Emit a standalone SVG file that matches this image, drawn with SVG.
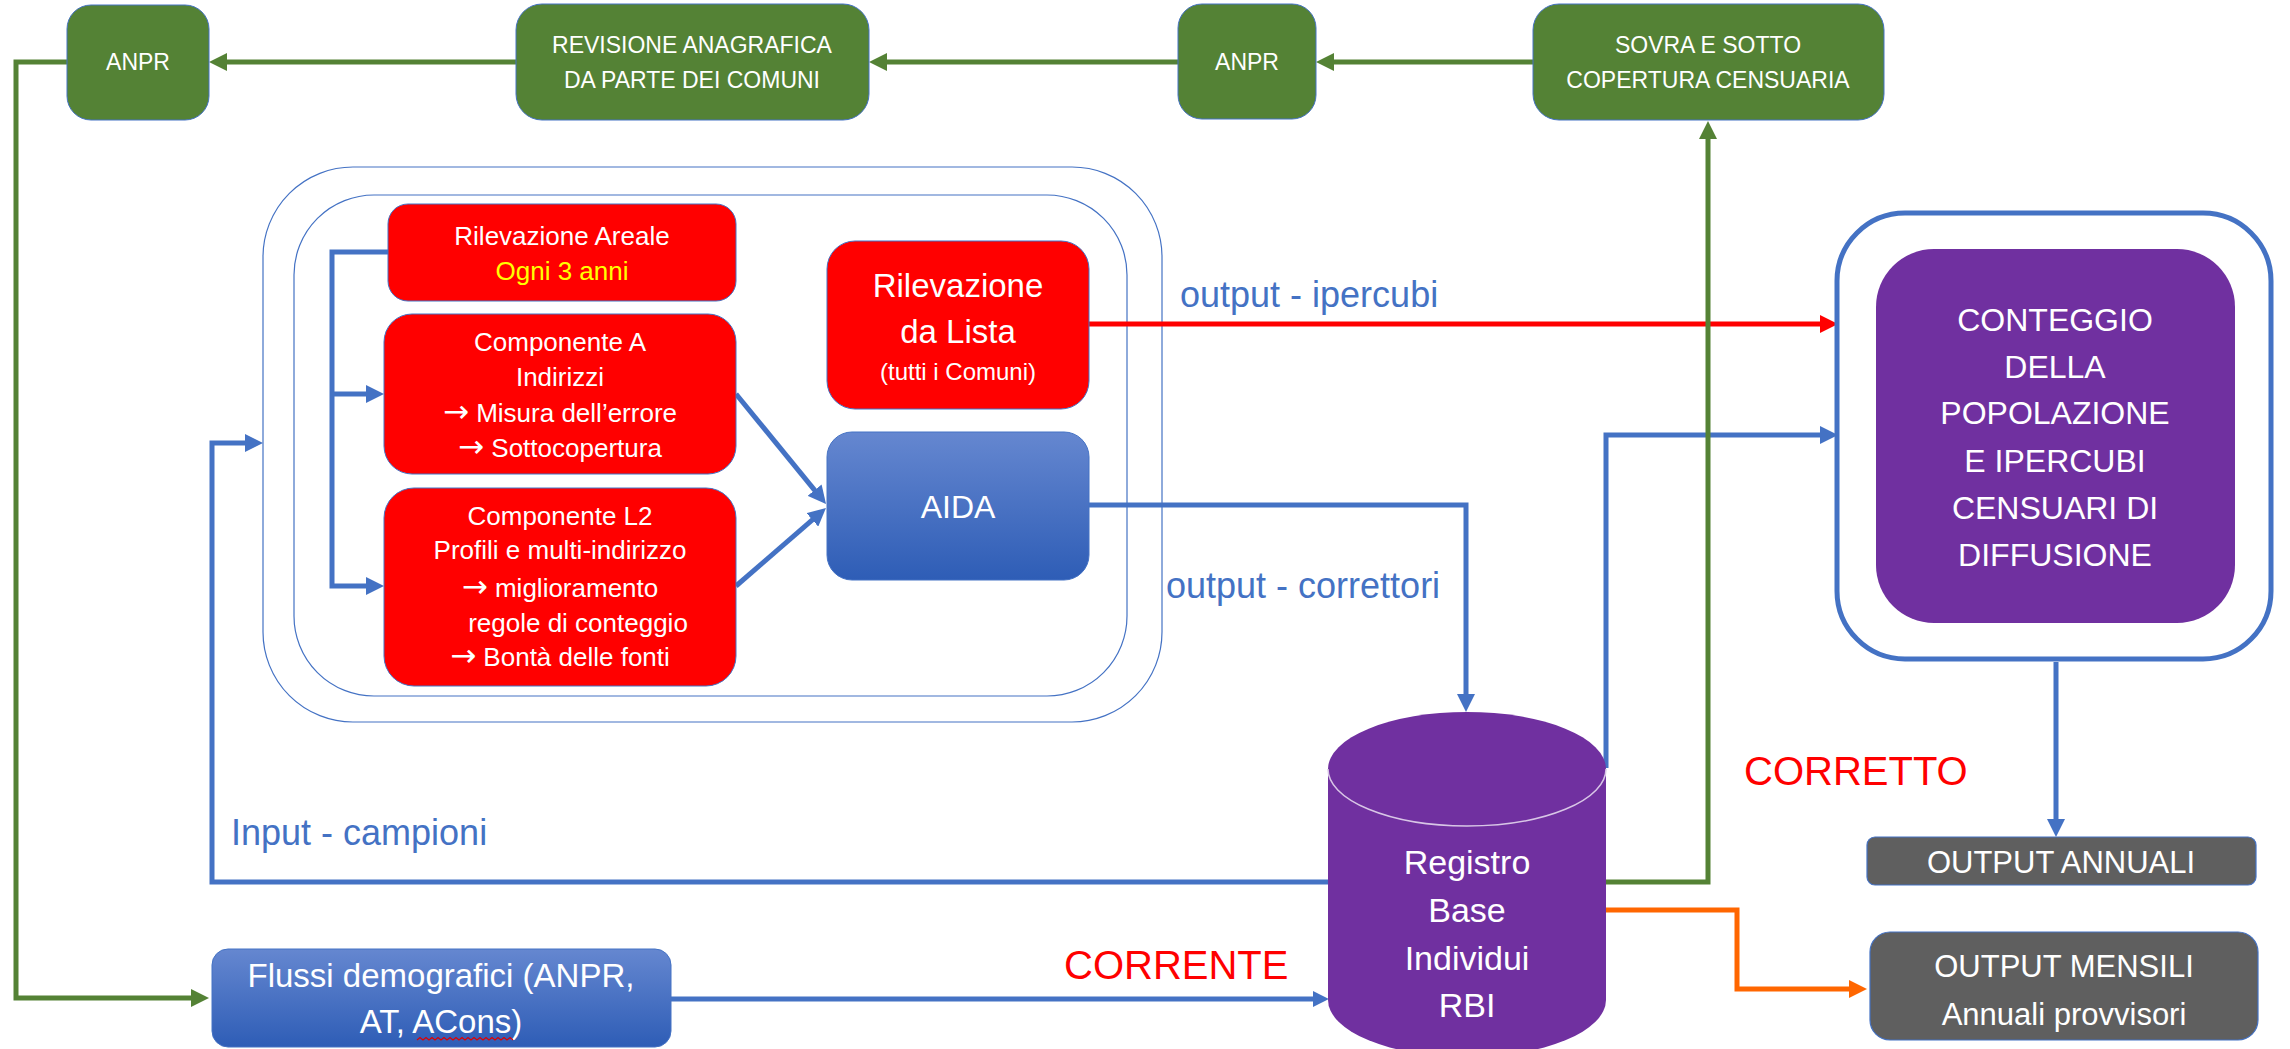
<svg xmlns="http://www.w3.org/2000/svg" width="2290" height="1049" viewBox="0 0 2290 1049">
<style>
text{font-family:"Liberation Sans",Arial,sans-serif;}
.w{fill:#ffffff;text-anchor:middle;}
.ar{font-family:"DejaVu Sans",sans-serif;font-size:31px;}
.g{fill:#548235;stroke:#4472c4;stroke-width:1;}
.r{fill:#ff0000;stroke:#4472c4;stroke-width:1;}
.gy{fill:#5f5f5f;stroke:#4472c4;stroke-width:1.2;}
.bl{fill:url(#blueGrad);stroke:#4472c4;stroke-width:1;}
.cont{fill:#ffffff;stroke:#4472c4;stroke-width:1.2;}
.lb{fill:#4472c4;}
.big{fill:#ff0000;}
.c{fill:none;stroke-linejoin:miter;}
.cb{stroke:#4472c4;stroke-width:5;}
.cg{stroke:#548235;stroke-width:5;}
.cr{stroke:#ff0000;stroke-width:5;}
.co{stroke:#ff6600;stroke-width:5;}
</style>
<defs>
<linearGradient id="blueGrad" x1="0" y1="0" x2="0" y2="1">
<stop offset="0" stop-color="#6587d0"/>
<stop offset="1" stop-color="#2e5db6"/>
</linearGradient>
<marker id="ab" viewBox="0 0 18 18" markerWidth="18" markerHeight="18" markerUnits="userSpaceOnUse" refX="8" refY="9" orient="auto"><path d="M0,0 L18,9 L0,18 z" fill="#4472c4"/></marker>
<marker id="abs" viewBox="0 0 18 18" markerWidth="16" markerHeight="16" markerUnits="userSpaceOnUse" refX="8" refY="9" orient="auto"><path d="M0,0 L18,9 L0,18 z" fill="#4472c4"/></marker>
<marker id="ag" viewBox="0 0 18 18" markerWidth="18" markerHeight="18" markerUnits="userSpaceOnUse" refX="8" refY="9" orient="auto"><path d="M0,0 L18,9 L0,18 z" fill="#548235"/></marker>
<marker id="ar" viewBox="0 0 18 18" markerWidth="18" markerHeight="18" markerUnits="userSpaceOnUse" refX="8" refY="9" orient="auto"><path d="M0,0 L18,9 L0,18 z" fill="#ff0000"/></marker>
<marker id="ao" viewBox="0 0 18 18" markerWidth="18" markerHeight="18" markerUnits="userSpaceOnUse" refX="8" refY="9" orient="auto"><path d="M0,0 L18,9 L0,18 z" fill="#ff6600"/></marker>
</defs>
<rect width="2290" height="1049" fill="#ffffff"/>

<g id="containers">
<rect class="cont" x="263" y="167" width="899" height="555" rx="90"/>
<rect class="cont" x="294" y="195" width="833" height="501" rx="80"/>
</g>

<g id="connectors">
<path class="c cg" d="M1533,62 H1326" marker-end="url(#ag)"/>
<path class="c cg" d="M1178,62 H879" marker-end="url(#ag)"/>
<path class="c cg" d="M516,62 H219" marker-end="url(#ag)"/>
<path class="c cg" d="M67,62 H16 V998 H199" marker-end="url(#ag)"/>
<path class="c cb" d="M388,252 H332 V586 H374" marker-end="url(#ab)"/>
<path class="c cb" d="M332,394 H374" marker-end="url(#ab)"/>
<path class="c cb" d="M736,394 L819.7,496.3" stroke-width="4" marker-end="url(#ab)"/>
<path class="c cb" d="M736,586 L818.4,514.6" stroke-width="4" marker-end="url(#ab)"/>
<path class="c cr" d="M1089,324 H1828" marker-end="url(#ar)"/>
<path class="c cb" d="M1089,505 H1466 V702" stroke-width="4" marker-end="url(#ab)"/>
<path class="c cb" d="M1606,768 V435 H1828" stroke-width="4" marker-end="url(#ab)"/>
<path class="c cg" d="M1606,882 H1708 V131" stroke-width="4" marker-end="url(#ag)"/>
<path class="c cb" d="M1328,882 H212 V443 H253" marker-end="url(#ab)"/>
<path class="c co" d="M1606,910 H1737 V989 H1857" marker-end="url(#ao)"/>
<path class="c cb" d="M2056,662 V827" stroke-width="4" marker-end="url(#ab)"/>
<path class="c cb" d="M671,999 H1320" stroke-width="2.5" marker-end="url(#abs)"/>
</g>

<g id="anpr1">
<rect class="g" x="67" y="5" width="142" height="115" rx="24"/>
<text class="w" x="138" y="70" font-size="23">ANPR</text>
</g>
<g id="revisione">
<rect class="g" x="516" y="4" width="353" height="116" rx="26"/>
<text class="w" x="692" y="53" font-size="23">REVISIONE ANAGRAFICA</text>
<text class="w" x="692" y="88" font-size="23">DA PARTE DEI COMUNI</text>
</g>
<g id="anpr2">
<rect class="g" x="1178" y="4" width="138" height="115" rx="24"/>
<text class="w" x="1247" y="70" font-size="23">ANPR</text>
</g>
<g id="sovra">
<rect class="g" x="1533" y="4" width="351" height="116" rx="26"/>
<text class="w" x="1708" y="53" font-size="23">SOVRA E SOTTO</text>
<text class="w" x="1708" y="88" font-size="23">COPERTURA CENSUARIA</text>
</g>

<g id="rilevazione-areale">
<rect class="r" x="388" y="204" width="348" height="97" rx="20"/>
<text class="w" x="562" y="245" font-size="26">Rilevazione Areale</text>
<text x="562" y="280" font-size="26" fill="#ffff00" text-anchor="middle">Ogni 3 anni</text>
</g>
<g id="componente-a">
<rect class="r" x="384" y="314" width="352" height="160" rx="28"/>
<text class="w" x="560" y="351" font-size="26">Componente A</text>
<text class="w" x="560" y="386" font-size="26">Indirizzi</text>
<text class="w" x="560" y="422" font-size="26"><tspan class="ar">→</tspan> Misura dell’errore</text>
<text class="w" x="560" y="457" font-size="26"><tspan class="ar">→</tspan> Sottocopertura</text>
</g>
<g id="componente-l2">
<rect class="r" x="384" y="488" width="352" height="198" rx="30"/>
<text class="w" x="560" y="525" font-size="26">Componente L2</text>
<text class="w" x="560" y="559" font-size="26">Profili e multi-indirizzo</text>
<text class="w" x="560" y="597" font-size="26"><tspan class="ar">→</tspan>  miglioramento</text>
<text class="w" x="578" y="632" font-size="26">regole di conteggio</text>
<text class="w" x="560" y="666" font-size="26"><tspan class="ar">→</tspan> Bontà delle fonti</text>
</g>
<g id="rilevazione-lista">
<rect class="r" x="827" y="241" width="262" height="168" rx="28"/>
<text class="w" x="958" y="297" font-size="33">Rilevazione</text>
<text class="w" x="958" y="343" font-size="33">da Lista</text>
<text class="w" x="958" y="380" font-size="24">(tutti i Comuni)</text>
</g>
<g id="aida">
<rect class="bl" x="827" y="432" width="262" height="148" rx="25"/>
<text class="w" x="958" y="518" font-size="32">AIDA</text>
</g>

<g id="conteggio">
<rect x="1837" y="213" width="434" height="446" rx="68" fill="#ffffff" stroke="#4472c4" stroke-width="5"/>
<rect x="1876" y="249" width="359" height="374" rx="58" fill="#7030a0"/>
<text class="w" x="2055" y="331" font-size="32">CONTEGGIO</text>
<text class="w" x="2055" y="378" font-size="32">DELLA</text>
<text class="w" x="2055" y="424" font-size="32">POPOLAZIONE</text>
<text class="w" x="2055" y="472" font-size="32">E IPERCUBI</text>
<text class="w" x="2055" y="519" font-size="32">CENSUARI DI</text>
<text class="w" x="2055" y="566" font-size="32">DIFFUSIONE</text>
</g>

<g id="rbi">
<path d="M1328,769 A139,57 0 0 1 1606,769 V1000 A139,57 0 0 1 1328,1000 Z" fill="#7030a0"/>
<path d="M1328,769 A139,57 0 0 0 1606,769" fill="none" stroke="#d8c6e6" stroke-width="1.5"/>
<text class="w" x="1467" y="874" font-size="34">Registro</text>
<text class="w" x="1467" y="922" font-size="34">Base</text>
<text class="w" x="1467" y="970" font-size="34">Individui</text>
<text class="w" x="1467" y="1017" font-size="34">RBI</text>
</g>

<g id="output-annuali">
<rect class="gy" x="1867" y="837" width="389" height="48" rx="8"/>
<text class="w" x="2061" y="873" font-size="31">OUTPUT ANNUALI</text>
</g>
<g id="output-mensili">
<rect class="gy" x="1870" y="932" width="388" height="108" rx="20"/>
<text class="w" x="2064" y="977" font-size="31">OUTPUT MENSILI</text>
<text class="w" x="2064" y="1025" font-size="31">Annuali provvisori</text>
</g>

<g id="flussi">
<rect class="bl" x="212" y="949" width="459" height="98" rx="16"/>
<text class="w" x="441" y="987" font-size="33">Flussi demografici (ANPR,</text>
<text class="w" x="441" y="1033" font-size="33">AT, ACons)</text>
<path d="M417,1040 l3,-2.5 l3,2.5 l3,-2.5 l3,2.5 l3,-2.5 l3,2.5 l3,-2.5 l3,2.5 l3,-2.5 l3,2.5 l3,-2.5 l3,2.5 l3,-2.5 l3,2.5 l3,-2.5 l3,2.5 l3,-2.5 l3,2.5 l3,-2.5 l3,2.5 l3,-2.5 l3,2.5 l3,-2.5 l3,2.5 l3,-2.5 l3,2.5 l3,-2.5 l3,2.5 l3,-2.5 l3,2.5 l3,-2.5 l3,2.5" fill="none" stroke="#e00000" stroke-width="1.2"/>
</g>

<g id="labels">
<text class="lb" x="1180" y="307" font-size="36">output - ipercubi</text>
<text class="lb" x="1166" y="598" font-size="36">output - correttori</text>
<text class="lb" x="231" y="845" font-size="36">Input - campioni</text>
<text class="big" x="1064" y="979" font-size="40">CORRENTE</text>
<text class="big" x="1744" y="785" font-size="40">CORRETTO</text>
</g>
</svg>
